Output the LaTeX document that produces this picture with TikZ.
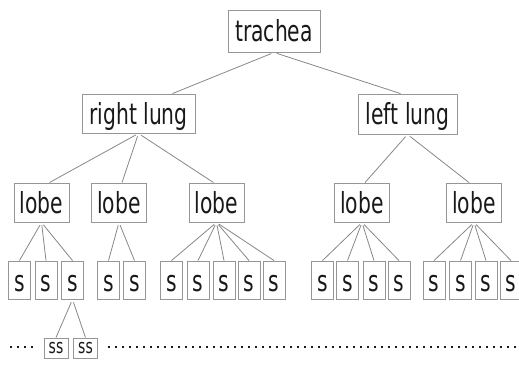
\documentclass[tikz,border=0pt]{standalone}
\usepackage{fontspec}
\newfontfamily\boxfont[FakeStretch=0.7]{DejaVu Sans}
\usetikzlibrary{positioning, calc}
\definecolor{framegray}{RGB}{150,150,150}
\definecolor{linegray}{RGB}{135,135,135}
\definecolor{inkgray}{RGB}{25,25,25}

\begin{document}
\begin{tikzpicture}[
    x=1pt, y=-1pt,
    box/.style={draw=framegray, line width=0.9pt, inner sep=0pt, text=inkgray,
        text height=22pt, text depth=0pt, font=\boxfont\fontsize{29}{30}\selectfont}, % framed label
    lobebox/.style={box, minimum width=55pt, minimum height=39pt},
    sbox/.style={box, minimum width=22pt, minimum height=38pt},
    ssbox/.style={box, minimum width=24pt, minimum height=20pt,
        text height=11pt, font=\boxfont\fontsize{20}{21}\selectfont},
    branch/.style={draw=linegray, line width=0.8pt, shorten <=3pt},
    more/.style={inkgray, line width=2.4pt, dash pattern=on 2.4pt off 4.6pt}
]
    \useasboundingbox (0,0) rectangle (519,366);

    % === Top of the tree ===
    \node[box, minimum width=92pt, minimum height=42pt] (trachea) at (274,31) {trachea};
    \node[box, minimum width=113pt, minimum height=39pt] (rlung) at (138.5,113.5) {right lung};
    \node[box, minimum width=99pt, minimum height=40pt] (llung) at (407.5,114) {left lung};

    \draw[branch] (trachea.south) -- ([xshift=34pt]rlung.north);
    \draw[branch] (trachea.south) -- ([xshift=-7pt]llung.north);

    % === Lobes ===
    \node[lobebox] (lobeA) at (41.5,202.5) {lobe};
    \node[lobebox] (lobeB) at (119,202.5) {lobe};
    \node[lobebox] (lobeC) at (216.5,202.5) {lobe};
    \node[lobebox] (lobeD) at (362,202.5) {lobe};
    \node[lobebox] (lobeE) at (474,202.5) {lobe};

    \draw[branch] (rlung.south) -- ([xshift=8pt]lobeA.north);
    \draw[branch] (rlung.south) -- ([xshift=3pt]lobeB.north);
    \draw[branch] (rlung.south) -- ([xshift=-3pt]lobeC.north);
    \draw[branch] (llung.south) -- ([xshift=3pt]lobeD.north);
    \draw[branch] (llung.south) -- ([xshift=-5pt]lobeE.north);

    % === Segments (one s per box) ===
    \foreach \xs [count=\i] in {19.5,46,72.5, 108.5,134.5, 171.5,198,224,249,274,
                                322.5,347.5,374,399, 434,460.5,486,511}
        \node[sbox] (s\i) at (\xs,280) {s};

    \foreach \i in {1,2,3}       \draw[branch] (lobeA.south) -- (s\i.north);
    \foreach \i in {4,5}         \draw[branch] (lobeB.south) -- (s\i.north);
    \foreach \i in {6,...,10}    \draw[branch] (lobeC.south) -- (s\i.north);
    \foreach \i in {11,...,14}   \draw[branch] (lobeD.south) -- (s\i.north);
    \foreach \i in {15,...,18}   \draw[branch] (lobeE.south) -- (s\i.north);

    % === Subsegments ===
    \node[ssbox] (ss1) at (56,348) {ss};
    \node[ssbox] (ss2) at (85.5,348) {ss};
    \draw[branch] (s3.south) -- (ss1.north);
    \draw[branch] (s3.south) -- (ss2.north);

    % dotted runs on either side
    \coordinate (moreL) at (10,347);
    \coordinate (moreLend) at (34,347);
    \coordinate (moreR) at (108,347);
    \coordinate (moreRend) at (516,347);
    \draw[more] (moreL) -- (moreLend);
    \draw[more] (moreR) -- (moreRend);

\end{tikzpicture}
\end{document}
